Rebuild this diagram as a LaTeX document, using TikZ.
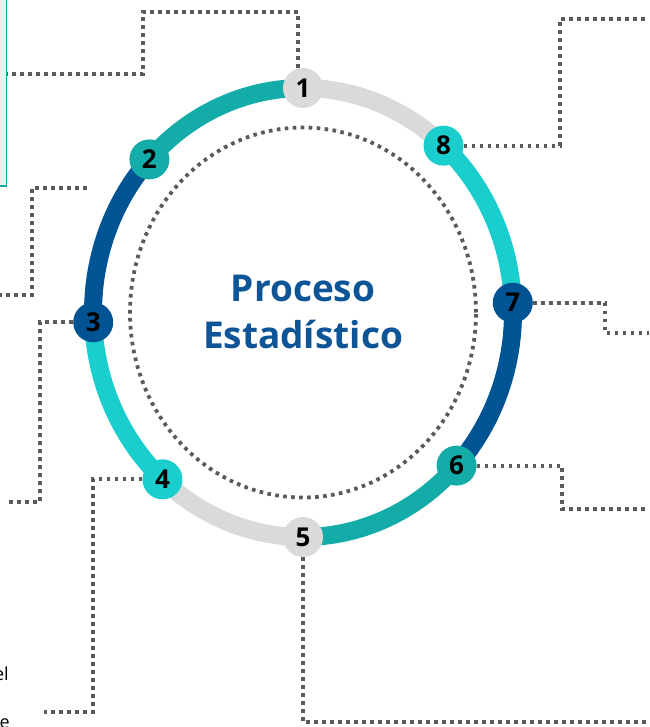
\documentclass[tikz,border=0pt]{standalone}
\usepackage{fontspec}
\setmainfont{Open Sans}
\usepackage{xcolor}
\usetikzlibrary{positioning,calc}
\definecolor{ringteal}{HTML}{13ACA8}
\definecolor{ringblue}{HTML}{005494}
\definecolor{ringcyan}{HTML}{1ACECE}
\definecolor{ringgray}{HTML}{DADADA}
\definecolor{dotgray}{HTML}{5A5A5A}
\definecolor{titleblue}{HTML}{0E5598}
\definecolor{boxfill}{HTML}{EEEEEE}
\tikzset{
  ring/.style={line width=18pt},
  marker/.style={circle, inner sep=0pt, minimum size=40pt, font=\fontsize{26}{26}\selectfont\bfseries, text=black},
  link/.style={draw=dotgray, line width=3.8pt, dash pattern=on 3.6pt off 4.4pt},
  title/.style={align=center, text=titleblue, font=\fontsize{37}{47}\selectfont\bfseries},
  infobox/.style={draw=ringteal, line width=1.5pt, fill=boxfill, minimum width=150pt, minimum height=220pt, inner sep=0pt},
  cuttext/.style={anchor=base east, font=\fontsize{18}{18}\selectfont, text=black, inner sep=0pt}
}

\begin{document}
\begin{tikzpicture}[x=1pt, y=-1pt]
  \useasboundingbox (0,0) rectangle (649,727);
  \clip (0,0) rectangle (649,727);
  \node[infobox, anchor=south east] (box) at (7,187) {};
  \begin{scope}[shift={(303,312.5)}]
    \draw[link] (0,0) ellipse [x radius=173pt, y radius=185pt];
    \foreach \a/\b/\col in {90/137/ringteal, 137/182.5/ringblue, 182.5/228/ringcyan, 228/270/ringgray,
                           270/317/ringteal, 317/362.5/ringblue, 2.5/48/ringcyan, 48/90/ringgray}
      \draw[ring, draw=\col] (\a:210pt and 224.5pt) arc[start angle=\a, end angle=\b, x radius=210pt, y radius=224.5pt];
    \foreach \i/\t/\col in {1/90/ringgray, 2/137/ringteal, 3/182.5/ringblue, 4/228/ringcyan,
                           5/270/ringgray, 6/317/ringteal, 7/2.5/ringblue, 8/48/ringcyan}
      \node[marker, fill=\col] (n\i) at (\t:210pt and 224.5pt) {\i};
    \node[title] (title) at (0,-1) {Proceso\\Estadístico};
  \end{scope}
  \coordinate (e1) at (7,74);
  \coordinate (s2) at (87,188);
  \coordinate (e2) at (0,295);
  \coordinate (e3) at (7,502);
  \coordinate (e4) at (44,712);
  \coordinate (e5) at (649,722);
  \coordinate (e6) at (649,509);
  \coordinate (e7) at (649,333);
  \coordinate (e8) at (649,19);
  \draw[link] ([xshift=-5pt]n1.north) |- (143,12) |- (e1);
  \draw[link] (s2) -| (32,295) -- (e2);
  \draw[link] (n3.west) -| (40,502) -- (e3);
  \draw[link] (n4.west) -| (93,712) -- (e4);
  \draw[link] (n5.south) |- (e5);
  \draw[link] (n6.east) -| (562,509) -- (e6);
  \draw[link] (n7.east) -| (605,333) -- (e7);
  \draw[link] (n8.east) -| (560,19) -- (e8);
  \node[cuttext] (t1) at (9,680) {el};
  \node[cuttext] (t2) at (10,728) {e};
\end{tikzpicture}
\end{document}
